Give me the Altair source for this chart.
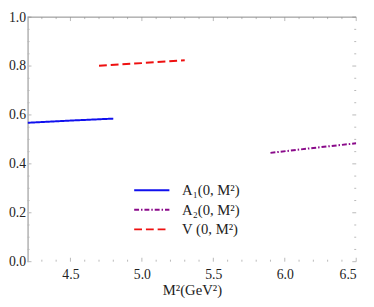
import altair as alt
import pandas as pd

# ---- data ----
series_names = ["A₁(0, M²)", "A₂(0, M²)", "V (0, M²)"]
a1_x = [4.2, 4.5, 4.8]
a1_y = [0.568, 0.577, 0.585]
a2_x = [5.9, 6.2, 6.5]
a2_y = [0.445, 0.465, 0.484]
v_x = [4.7, 5.0, 5.3]
v_y = [0.801, 0.812, 0.824]

x_major = [4.5, 5.0, 5.5, 6.0, 6.5]
x_minor = [4.3, 4.4, 4.6, 4.7, 4.8, 4.9, 5.1, 5.2, 5.3, 5.4,
           5.6, 5.7, 5.8, 5.9, 6.1, 6.2, 6.3, 6.4]
y_major = [0.0, 0.2, 0.4, 0.6, 0.8, 1.0]
y_minor = [0.05, 0.1, 0.15, 0.25, 0.3, 0.35, 0.45, 0.5, 0.55,
           0.65, 0.7, 0.75, 0.85, 0.9, 0.95]

colors = ["#1010ee", "#8a0a8a", "#ee1010"]
dashes = [[1, 0], [5, 2, 1.5, 2], [8, 4]]

W, H = 336, 250
FONT = "Liberation Serif"
TICK = "#b8b8b8"

rows = []
for name, xs, ys in zip(series_names, [a1_x, a2_x, v_x], [a1_y, a2_y, v_y]):
    for i, (xv, yv) in enumerate(zip(xs, ys)):
        rows.append({"series": name, "m2": xv, "f": yv, "order": i})
df = pd.DataFrame(rows)

xscale = alt.Scale(domain=[4.2, 6.5], nice=False, zero=False)
yscale = alt.Scale(domain=[0.0, 1.0], nice=False)

x_axis = alt.Axis(title="M²(GeV²)", values=x_major, format=".1f",
                  domain=False, ticks=False, grid=False,
                  labelFont=FONT, labelFontSize=14,
                  labelPadding=6, titlePadding=2)
y_axis = alt.Axis(title=None, values=y_major, format=".1f",
                  domain=True, domainColor="#888", ticks=False,
                  labelFont=FONT, labelFontSize=14,
                  grid=False, labelPadding=2)

lines = alt.Chart(df).mark_line(strokeWidth=2, clip=True).encode(
    x=alt.X("m2:Q", scale=xscale, axis=x_axis),
    y=alt.Y("f:Q", scale=yscale, axis=y_axis),
    color=alt.Color("series:N",
                    scale=alt.Scale(domain=series_names, range=colors),
                    legend=alt.Legend(title=None, orient="none", legendX=108,
                                      legendY=168, symbolType="stroke",
                                      symbolSize=1296, symbolStrokeWidth=2,
                                      clipHeight=18, rowPadding=2,
                                      labelFont=FONT, labelFontSize=15,
                                      labelColor="#222", labelOffset=12)),
    strokeDash=alt.StrokeDash("series:N",
                              scale=alt.Scale(domain=series_names, range=dashes),
                              legend=None),
    order="order:Q",
)

xmaj = pd.DataFrame({"v": x_major})
xmin = pd.DataFrame({"v": x_minor})
ymaj = pd.DataFrame({"v": y_major})
ymin = pd.DataFrame({"v": y_minor})


def xticks(data, length):
    bottom = alt.Chart(data).mark_rule(color=TICK, strokeWidth=1).encode(
        x=alt.X("v:Q", scale=xscale, axis=x_axis),
        y=alt.value(H), y2=alt.value(H - length))
    top = alt.Chart(data).mark_rule(color=TICK, strokeWidth=1).encode(
        x=alt.X("v:Q", scale=xscale, axis=x_axis),
        y=alt.value(0), y2=alt.value(length))
    return [bottom, top]


def yticks(data, length):
    left = alt.Chart(data).mark_rule(color=TICK, strokeWidth=1).encode(
        y=alt.Y("v:Q", scale=yscale, axis=y_axis),
        x=alt.value(0), x2=alt.value(length))
    right = alt.Chart(data).mark_rule(color=TICK, strokeWidth=1).encode(
        y=alt.Y("v:Q", scale=yscale, axis=y_axis),
        x=alt.value(W), x2=alt.value(W - length))
    return [left, right]


top_line = alt.Chart(pd.DataFrame({"a": [0]})).mark_rule(
    color="#888", strokeWidth=1).encode(
    x=alt.value(0), x2=alt.value(W), y=alt.value(0))

layers = ([lines] + xticks(xmaj, 4) + xticks(xmin, 2) + yticks(ymaj, 4) +
          yticks(ymin, 2) + [top_line])

chart = alt.layer(*layers).properties(
    width=W, height=H,
    autosize=alt.AutoSizeParams(type="none"),
    padding={"left": 20, "top": 6, "right": 10, "bottom": 43},
    background="white",
).configure_view(stroke=None).configure_axis(
    labelFont=FONT, labelFontSize=14, labelColor="#222",
    titleFont=FONT, titleFontSize=15, titleFontWeight="normal",
    titleColor="#222",
)

chart.save("out.html", embed_options={"renderer": "svg", "actions": False})
